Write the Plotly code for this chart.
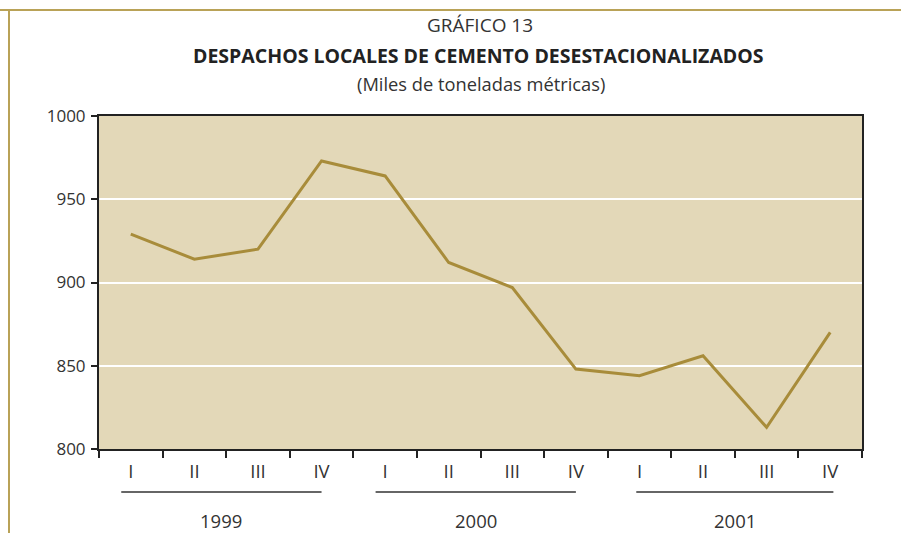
import plotly.graph_objects as go

quarters = ["I", "II", "III", "IV"] * 3
years = ["1999", "2000", "2001"]
values = [929, 914, 920, 973, 964, 912, 897, 848, 844, 856, 813, 870]
y_ticks = [800, 850, 900, 950, 1000]

W, H = 901, 533
L, R, T, B = 99, 39, 116, 84
pw, ph = W - L - R, H - T - B

def px_x(p):
    return (p - L) / pw

def px_y(p):
    return (H - B - p) / ph

cats = [f"{q} {years[i // 4]}" for i, q in enumerate(quarters)]

fig = go.Figure()
fig.add_trace(go.Scatter(
    x=cats, y=values, mode="lines",
    line=dict(color="#A88C3A", width=3),
    hoverinfo="x+y", showlegend=False,
))

font_family = "Open Sans, Noto Sans, Liberation Sans, sans-serif"
txt = "#333333"

shapes = []
annotations = []
for g, yr in enumerate(years):
    x0 = 4 * g - 0.15 + (0.1 if g == 2 else 0)
    x1 = 4 * g + 3.0 + (0.05 if g == 2 else 0)
    shapes.append(dict(type="line", xref="x", yref="paper",
                       x0=x0, x1=x1, y0=px_y(492), y1=px_y(492),
                       line=dict(color="#333333", width=1.5)))
    annotations.append(dict(x=(x0 + x1) / 2, y=px_y(520), xref="x", yref="paper",
                            text=yr, showarrow=False, yanchor="middle",
                            font=dict(size=18.5, color=txt, family=font_family)))

# gold frame
shapes.append(dict(type="line", xref="paper", yref="paper",
                   x0=px_x(0), x1=px_x(W), y0=px_y(10), y1=px_y(10),
                   line=dict(color="#B9A257", width=2)))
shapes.append(dict(type="line", xref="paper", yref="paper",
                   x0=px_x(9), x1=px_x(9), y0=px_y(10), y1=px_y(H),
                   line=dict(color="#B9A257", width=2)))

annotations += [
    dict(x=px_x(480), y=px_y(25), xref="paper", yref="paper", text="GRÁFICO 13",
         showarrow=False, yanchor="middle",
         font=dict(size=19, color=txt, family=font_family)),
    dict(x=px_x(478), y=px_y(55), xref="paper", yref="paper",
         text="<b>DESPACHOS LOCALES DE CEMENTO DESESTACIONALIZADOS</b>",
         showarrow=False, yanchor="middle",
         font=dict(size=19.5, color="#222222", family=font_family)),
    dict(x=px_x(481), y=px_y(84), xref="paper", yref="paper",
         text="(Miles de toneladas métricas)",
         showarrow=False, yanchor="middle",
         font=dict(size=18.3, color=txt, family=font_family)),
]

fig.update_layout(
    width=W, height=H,
    margin=dict(l=L, r=R, t=T, b=B),
    paper_bgcolor="white",
    plot_bgcolor="#E3D8B8",
    shapes=shapes,
    annotations=annotations,
    xaxis=dict(
        type="category",
        range=[-0.5, 11.5],
        tickvals=cats, ticktext=quarters,
        tickson="boundaries",
        ticks="outside", ticklen=7, tickcolor="#222222", tickwidth=1.5,
        showline=True, linecolor="#222222", linewidth=2, mirror=True,
        showgrid=False, zeroline=False,
        tickfont=dict(size=18.5, color=txt, family=font_family),
        ticklabelstandoff=5,
        fixedrange=True,
    ),
    yaxis=dict(
        range=[800, 1000], tickvals=y_ticks,
        ticks="outside", ticklen=6, tickcolor="#222222", tickwidth=1.5,
        showline=True, linecolor="#222222", linewidth=2, mirror=True,
        showgrid=True, gridcolor="white", gridwidth=2,
        zeroline=False,
        tickfont=dict(size=17, color=txt, family=font_family),
        ticklabelstandoff=2,
        fixedrange=True,
    ),
)

fig.write_html("out.html", config={"displayModeBar": False},
               post_script="document.body.style.margin='0';")
